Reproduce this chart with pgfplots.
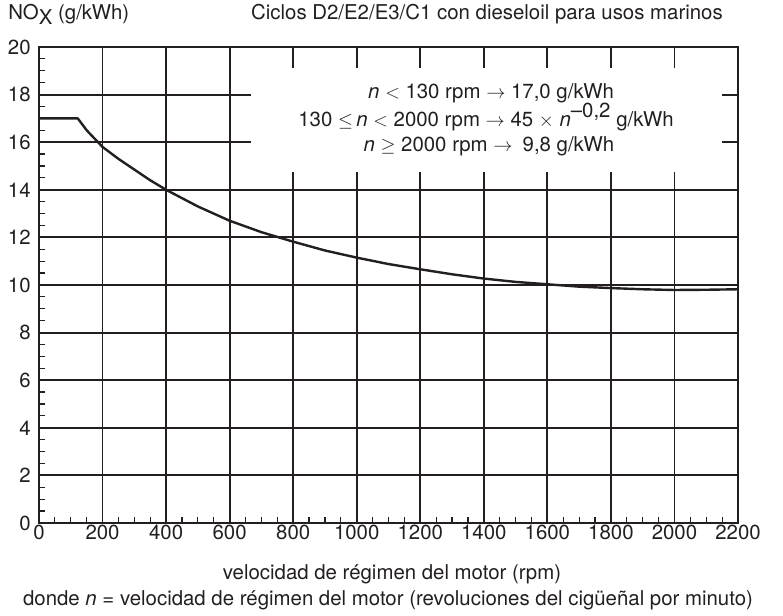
\documentclass[border=0pt]{standalone}
\usepackage{fontspec}
\setmainfont{TeX Gyre Heros}
\usepackage{pgfplots}
\pgfplotsset{compat=1.18}
\definecolor{ink}{HTML}{231F20}
\tikzset{gridline/.style={line width=1.4pt, draw=ink}}
\begin{document}
\fontsize{15.3}{18}\selectfont
\begin{tikzpicture}
\begin{axis}[
    scale only axis,
    width=524.25pt, height=357pt,
    xmin=0, xmax=2200, ymin=0, ymax=20,
    xtick={0,200,...,2200},
    ytick={0,2,...,20},
    minor x tick num=3, minor y tick num=3,
    axis line style={line width=1.3pt, draw=ink},
    major tick length=0pt, minor tick length=4.5pt,
    tick align=inside,
    minor tick style={line width=0.9pt, draw=ink},
    tick pos=left,
    /pgf/number format/assume math mode=true,
    /pgf/number format/1000 sep={},
    tick label style={font=\fontsize{15.3}{18}\selectfont, text=ink},
    xticklabel style={yshift=4pt},
    yticklabel style={xshift=-1pt},
  ]
  % grid, interrupted behind the formula box
  \draw[gridline] (axis cs:200,0) -- (axis cs:200,20);
  \draw[gridline] (axis cs:400,0) -- (axis cs:400,20);
  \draw[gridline] (axis cs:600,0) -- (axis cs:600,20);
  \draw[gridline] (axis cs:800,0) -- (axis cs:800,14.76) (axis cs:800,19.1) -- (axis cs:800,20);
  \draw[gridline] (axis cs:1000,0) -- (axis cs:1000,14.76) (axis cs:1000,19.1) -- (axis cs:1000,20);
  \draw[gridline] (axis cs:1200,0) -- (axis cs:1200,14.76) (axis cs:1200,19.1) -- (axis cs:1200,20);
  \draw[gridline] (axis cs:1400,0) -- (axis cs:1400,14.76) (axis cs:1400,19.1) -- (axis cs:1400,20);
  \draw[gridline] (axis cs:1600,0) -- (axis cs:1600,14.76) (axis cs:1600,19.1) -- (axis cs:1600,20);
  \draw[gridline] (axis cs:1800,0) -- (axis cs:1800,14.76) (axis cs:1800,19.1) -- (axis cs:1800,20);
  \draw[gridline] (axis cs:2000,0) -- (axis cs:2000,14.76) (axis cs:2000,19.1) -- (axis cs:2000,20);
  \draw[gridline] (axis cs:0,2) -- (axis cs:2200,2);
  \draw[gridline] (axis cs:0,4) -- (axis cs:2200,4);
  \draw[gridline] (axis cs:0,6) -- (axis cs:2200,6);
  \draw[gridline] (axis cs:0,8) -- (axis cs:2200,8);
  \draw[gridline] (axis cs:0,10) -- (axis cs:2200,10);
  \draw[gridline] (axis cs:0,12) -- (axis cs:2200,12);
  \draw[gridline] (axis cs:0,14) -- (axis cs:2200,14);
  \draw[gridline] (axis cs:0,16) -- (axis cs:666,16) (axis cs:2150,16) -- (axis cs:2200,16);
  \draw[gridline] (axis cs:0,18) -- (axis cs:666,18) (axis cs:2150,18) -- (axis cs:2200,18);

  \addplot[color=ink, line width=1.8pt, line join=round] coordinates {
      (0,17)(122,17)(150,16.5)(175,16.15)(200,15.8)(250,15.3)(300,14.85)
      (350,14.4)(400,14.0)(500,13.3)(600,12.7)(700,12.22)(800,11.82)
      (900,11.45)(1000,11.15)(1100,10.88)(1200,10.66)(1300,10.45)
      (1400,10.27)(1500,10.13)(1600,10.03)(1700,9.93)(1800,9.87)
      (1900,9.82)(2000,9.79)(2100,9.8)(2200,9.82)
    };

  \node[anchor=base, text=ink] at (axis cs:1423,17.82)
    {\textit{n} $<$ 130 rpm $\rightarrow$ 17,0 g/kWh};
  \node[anchor=base, text=ink] at (axis cs:1407,16.68)
    {130 $\leq$\,\textit{n} $<$ 2000 rpm $\rightarrow$ 45 $\times$ \textit{n}\raisebox{0.8ex}{–0,2} g/kWh};
  \node[anchor=base, text=ink] at (axis cs:1416,15.59)
    {\textit{n} $\geq$ 2000 rpm $\rightarrow$\enspace 9,8 g/kWh};

  \coordinate (O) at (rel axis cs:0,0);
\end{axis}

\node[anchor=base west, text=ink, inner sep=0pt] at ([shift={(-23.25pt,377.25pt)}]O)
  {NO\raisebox{-0.45ex}{X} (g/kWh)};
\node[anchor=base east, text=ink, inner sep=0pt] at ([shift={(513pt,377.25pt)}]O)
  {Ciclos D2/E2/E3/C1 con dieseloil para usos marinos};
\node[anchor=base, text=ink, inner sep=0pt] at ([shift={(264.75pt,-42.75pt)}]O)
  {velocidad de régimen del motor (rpm)};
\node[anchor=base, text=ink, inner sep=0pt] at ([shift={(261.75pt,-62.25pt)}]O)
  {donde \textit{n} = velocidad de régimen del motor (revoluciones del cigüeñal por minuto)};

\pgfresetboundingbox
\path ([shift={(-29.25pt,-69.75pt)}]O) rectangle ([shift={(558pt,392.25pt)}]O);
\end{tikzpicture}
\end{document}
